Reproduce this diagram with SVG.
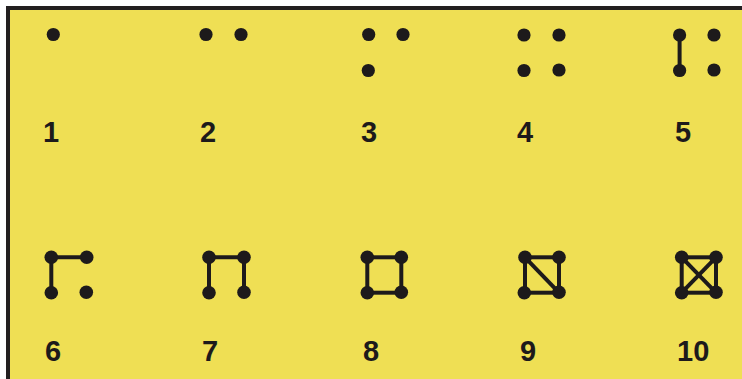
<svg xmlns="http://www.w3.org/2000/svg" width="742" height="379" viewBox="0 0 742 379">
<style>
.d{fill:#1d1a1b}
.e{stroke:#1d1a1b;stroke-width:4;fill:none;stroke-linecap:butt}
.n{font-family:"Liberation Sans",Arial,sans-serif;font-weight:bold;font-size:29px;fill:#1d1a1b}
</style>
<rect x="0" y="0" width="742" height="379" fill="#ffffff"/>
<rect x="8" y="8" width="740" height="380" fill="#efdf54"/>
<path d="M8,380 V8 H742" stroke="#231f20" stroke-width="4" fill="none"/>
<g id="connectors">
<line class="e" x1="679.6" y1="35" x2="679.6" y2="70"/>
<line class="e" x1="51.3" y1="257.3" x2="86.7" y2="257.3"/>
<line class="e" x1="51.3" y1="257.3" x2="51.3" y2="292.7"/>
<line class="e" x1="209" y1="257.3" x2="244" y2="257.3"/>
<line class="e" x1="209" y1="257.3" x2="209" y2="292.7"/>
<line class="e" x1="244" y1="257.3" x2="244" y2="292.7"/>
<rect class="e" x="367.3" y="257.3" width="34" height="35.4"/>
<rect class="e" x="525" y="257.3" width="34" height="35.4"/>
<line class="e" x1="525" y1="257.3" x2="559" y2="292.7"/>
<rect class="e" x="681.7" y="257.3" width="34.3" height="35.4"/>
<line class="e" x1="681.7" y1="257.3" x2="716" y2="292.7"/>
<line class="e" x1="716" y1="257.3" x2="681.7" y2="292.7"/>
</g>
<g id="fig1"><circle class="d" cx="53.3" cy="34.5" r="6.6"/><text class="n" x="43" y="141.5">1</text></g>
<g id="fig2"><circle class="d" cx="206" cy="34.5" r="6.6"/><circle class="d" cx="241" cy="34.5" r="6.6"/><text class="n" x="200" y="141.5">2</text></g>
<g id="fig3"><circle class="d" cx="368.7" cy="34.5" r="6.6"/><circle class="d" cx="403" cy="34.5" r="6.6"/><circle class="d" cx="368.3" cy="70.5" r="6.6"/><text class="n" x="361" y="141.5">3</text></g>
<g id="fig4"><circle class="d" cx="524" cy="35" r="6.6"/><circle class="d" cx="559" cy="35" r="6.6"/><circle class="d" cx="524" cy="70.5" r="6.6"/><circle class="d" cx="559" cy="70" r="6.6"/><text class="n" x="517" y="141.5">4</text></g>
<g id="fig5"><circle class="d" cx="679.6" cy="35" r="6.6"/><circle class="d" cx="714" cy="35" r="6.6"/><circle class="d" cx="679.6" cy="70.5" r="6.6"/><circle class="d" cx="714" cy="70" r="6.6"/><text class="n" x="675" y="141.5">5</text></g>
<g id="fig6"><circle class="d" cx="51.3" cy="257.3" r="6.8"/><circle class="d" cx="86.7" cy="257.3" r="6.8"/><circle class="d" cx="51.3" cy="292.7" r="6.8"/><circle class="d" cx="86.3" cy="292.3" r="6.8"/><text class="n" x="45" y="361">6</text></g>
<g id="fig7"><circle class="d" cx="209" cy="257.3" r="6.8"/><circle class="d" cx="244" cy="257.3" r="6.8"/><circle class="d" cx="209" cy="292.7" r="6.8"/><circle class="d" cx="244" cy="292.3" r="6.8"/><text class="n" x="202" y="361">7</text></g>
<g id="fig8"><circle class="d" cx="367.3" cy="257.3" r="6.8"/><circle class="d" cx="401.3" cy="257.3" r="6.8"/><circle class="d" cx="367.3" cy="292.7" r="6.8"/><circle class="d" cx="401.3" cy="292.3" r="6.8"/><text class="n" x="363" y="361">8</text></g>
<g id="fig9"><circle class="d" cx="525" cy="257.3" r="6.8"/><circle class="d" cx="559" cy="257.3" r="6.8"/><circle class="d" cx="524.3" cy="292.7" r="6.8"/><circle class="d" cx="559" cy="292.3" r="6.8"/><text class="n" x="520" y="361">9</text></g>
<g id="fig10"><circle class="d" cx="681.7" cy="257.3" r="6.8"/><circle class="d" cx="716" cy="257.3" r="6.8"/><circle class="d" cx="681.7" cy="292.7" r="6.8"/><circle class="d" cx="716" cy="292.3" r="6.8"/><text class="n" x="677" y="361">10</text></g>
</svg>
